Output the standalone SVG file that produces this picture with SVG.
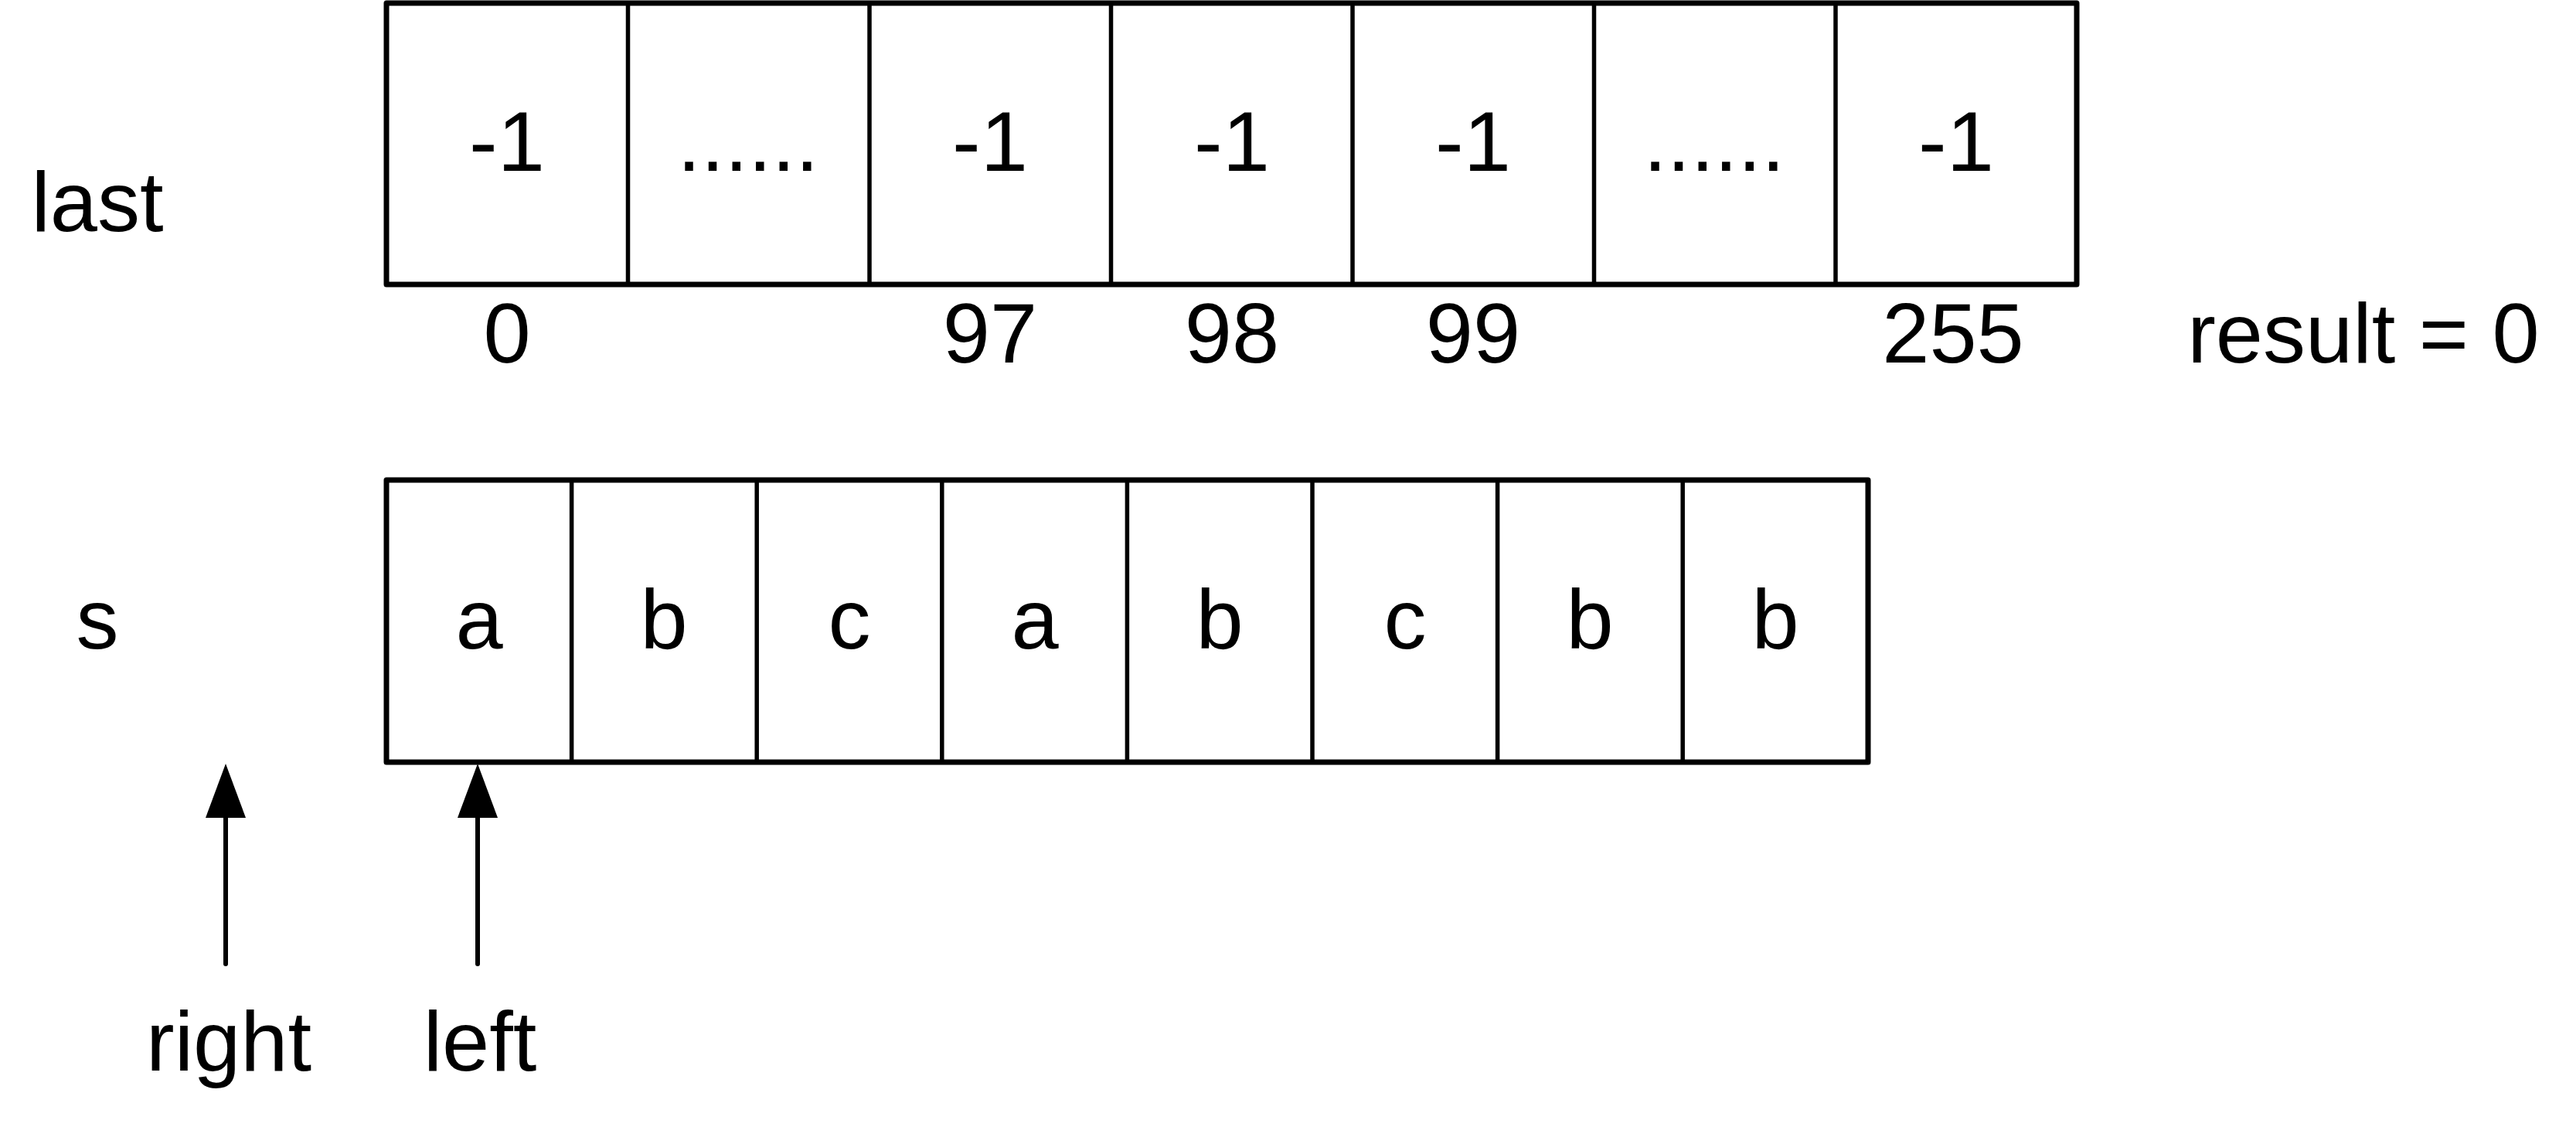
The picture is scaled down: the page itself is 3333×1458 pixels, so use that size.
<svg xmlns="http://www.w3.org/2000/svg" width="3333" height="1458" viewBox="0 0 3333 1458">
<style>
text{font-family:"Liberation Sans",Arial,sans-serif;font-size:110px;fill:#000;text-anchor:middle}
.box{fill:#fff;stroke:#000;stroke-width:7;stroke-linejoin:round}
.div{stroke:#000;stroke-width:5.5}
.arr{stroke:#000;stroke-width:6;stroke-linecap:round;fill:none}
</style>
<defs>
<marker id="ah" markerUnits="userSpaceOnUse" markerWidth="70" markerHeight="52" refX="2" refY="26" orient="auto" viewBox="0 0 70 52">
<path d="M0,0 L70,26 L0,52 Z" fill="#000"/>
</marker>
</defs>
<text x="126" y="299">last</text>
<text x="126" y="839">s</text>
<g id="last">
<rect class="box" x="500" y="4" width="2187" height="364"/>
<line class="div" x1="812.5" y1="4" x2="812.5" y2="368"/>
<line class="div" x1="1125" y1="4" x2="1125" y2="368"/>
<line class="div" x1="1437.5" y1="4" x2="1437.5" y2="368"/>
<line class="div" x1="1750" y1="4" x2="1750" y2="368"/>
<line class="div" x1="2062.5" y1="4" x2="2062.5" y2="368"/>
<line class="div" x1="2375" y1="4" x2="2375" y2="368"/>
<text x="656" y="221">-1</text>
<text x="968" y="221">......</text>
<text x="1281" y="221">-1</text>
<text x="1594" y="221">-1</text>
<text x="1906" y="221">-1</text>
<text x="2218" y="221">......</text>
<text x="2531" y="221">-1</text>
</g>
<g id="last-index">
<text x="656" y="469">0</text>
<text x="1281" y="469">97</text>
<text x="1594" y="469">98</text>
<text x="1906" y="469">99</text>
<text x="2527" y="469">255</text>
</g>
<text id="result" x="3058" y="469">result = 0</text>
<g id="s">
<rect class="box" x="500" y="621" width="1917" height="365"/>
<line class="div" x1="739.6" y1="621" x2="739.6" y2="986"/>
<line class="div" x1="979.2" y1="621" x2="979.2" y2="986"/>
<line class="div" x1="1218.8" y1="621" x2="1218.8" y2="986"/>
<line class="div" x1="1458.4" y1="621" x2="1458.4" y2="986"/>
<line class="div" x1="1698" y1="621" x2="1698" y2="986"/>
<line class="div" x1="1937.6" y1="621" x2="1937.6" y2="986"/>
<line class="div" x1="2177.2" y1="621" x2="2177.2" y2="986"/>
<text x="620" y="839">a</text>
<text x="859" y="839">b</text>
<text x="1099" y="839">c</text>
<text x="1339" y="839">a</text>
<text x="1578" y="839">b</text>
<text x="1818" y="839">c</text>
<text x="2057" y="839">b</text>
<text x="2297" y="839">b</text>
</g>
<g id="connectors">
<line class="arr" x1="292" y1="1247" x2="292" y2="1056" marker-end="url(#ah)"/>
<line class="arr" x1="618" y1="1247" x2="618" y2="1056" marker-end="url(#ah)"/>
</g>
<text id="right" x="296" y="1385">right</text>
<text id="left" x="621" y="1385">left</text>
</svg>
